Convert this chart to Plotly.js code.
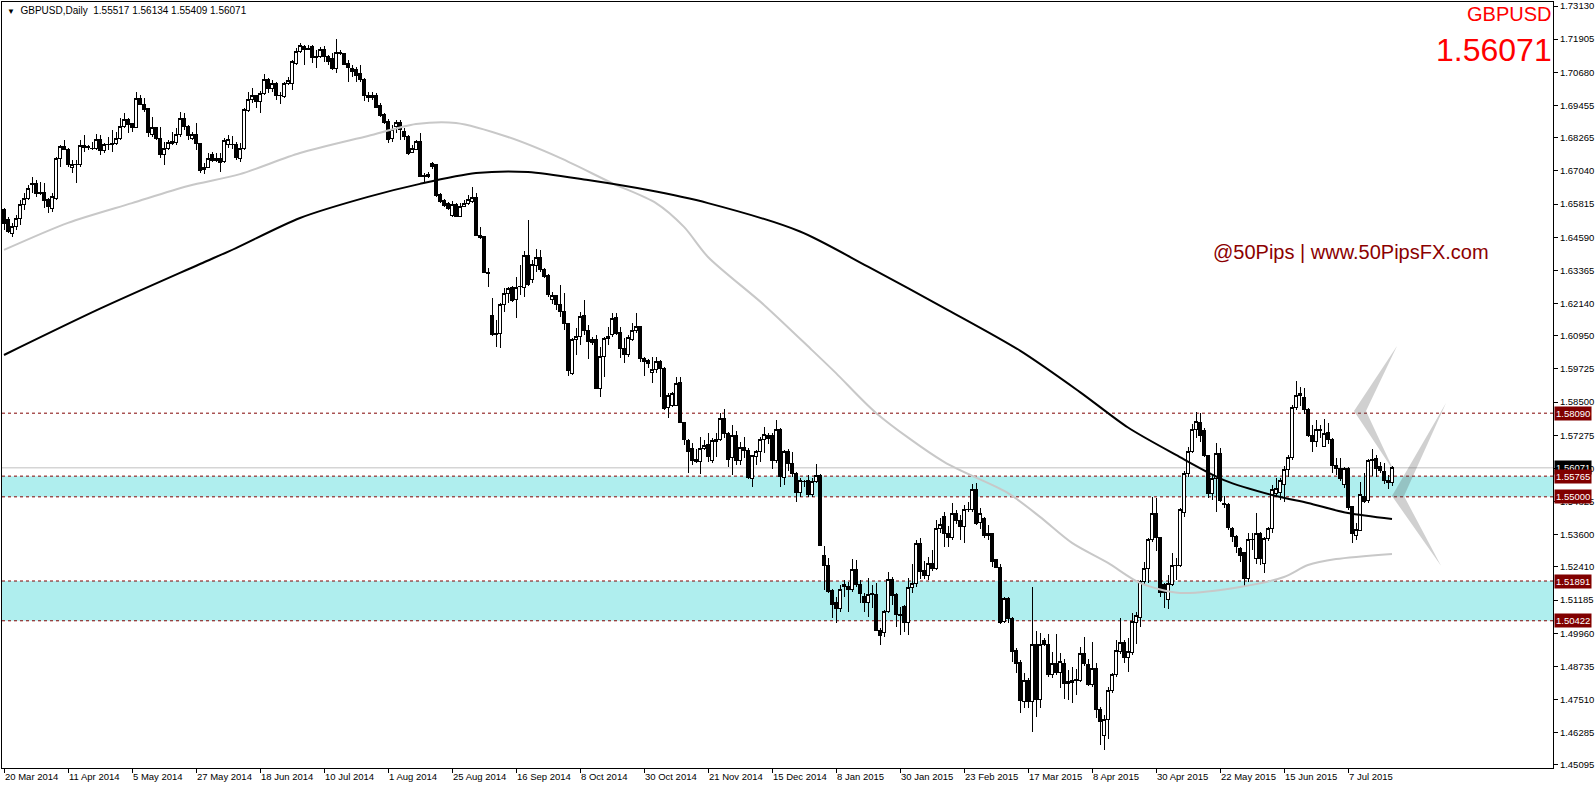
<!DOCTYPE html>
<html>
<head>
<meta charset="utf-8">
<script src="https://cdn.plot.ly/plotly-3.0.1.min.js"></script>
<style>
html,body{margin:0;padding:0;background:#fff;}
#chart{width:1596px;height:786px;}
#chart .boxlayer path{shape-rendering:crispEdges;}
</style>
</head>
<body>
<div id="chart"></div>
<script>
// ---------------- DATA ----------------
const symbol = "GBPUSD";
const timeframe = "Daily";

const opens = [
1.6560,1.6523,1.6473,1.6498,1.6529,1.6578,1.6603,1.6658,1.6658,1.6625,1.6625,1.6597,1.6566,1.6603,1.6748,1.6793,1.6784,1.6716,1.6728,1.6726,
1.6796,1.6793,1.6787,1.6787,1.6821,1.6781,1.6800,1.6800,1.6806,1.6824,1.6867,1.6892,1.6880,1.6865,1.6972,1.6951,1.6933,1.6839,1.6865,1.6824,
1.6766,1.6787,1.6806,1.6809,1.6837,1.6898,1.6867,1.6824,1.6839,1.6806,1.6710,1.6716,1.6766,1.6748,1.6748,1.6738,1.6803,1.6803,1.6803,1.6750,
1.6785,1.6926,1.6966,1.6981,1.6960,1.6990,1.7040,1.7009,1.7027,1.6984,1.6978,1.7025,1.7025,1.7101,1.7144,1.7165,1.7157,1.7165,1.7128,1.7128,
1.7154,1.7126,1.7120,1.7083,1.7142,1.7136,1.7101,1.7083,1.7077,1.7062,1.7042,1.6984,1.6982,1.6981,1.6944,1.6911,1.6886,1.6824,1.6867,1.6882,
1.6851,1.6830,1.6771,1.6784,1.6812,1.6687,1.6683,1.6732,1.6726,1.6615,1.6594,1.6584,1.6541,1.6578,1.6537,1.6574,1.6584,1.6590,1.6606,1.6467,
1.6461,1.6329,1.6168,1.6104,1.6104,1.6209,1.6252,1.6274,1.6229,1.6276,1.6274,1.6390,1.6303,1.6356,1.6385,1.6338,1.6316,1.6230,1.6242,1.6212,
1.6184,1.6141,1.5956,1.6082,1.6094,1.6168,1.6116,1.6082,1.6082,1.5901,1.6020,1.6086,1.6098,1.6163,1.6107,1.6049,1.6024,1.6082,1.6116,1.6129,
1.6012,1.6002,1.5959,1.5971,1.5999,1.5975,1.5831,1.5839,1.5839,1.5922,1.5774,1.5707,1.5679,1.5639,1.5630,1.5679,1.5692,1.5634,1.5704,1.5712,
1.5790,1.5735,1.5646,1.5728,1.5636,1.5683,1.5673,1.5568,1.5648,1.5667,1.5712,1.5728,1.5725,1.5634,1.5747,1.5572,1.5667,1.5624,1.5587,1.5516,
1.5556,1.5562,1.5510,1.5556,1.5577,1.5285,1.5245,1.5153,1.5109,1.5088,1.5178,1.5170,1.5158,1.5230,1.5178,1.5131,1.5109,1.5141,1.5141,1.5008,
1.4998,1.5076,1.5195,1.5141,1.5067,1.5094,1.5035,1.5166,1.5180,1.5326,1.5227,1.5211,1.5254,1.5236,1.5384,1.5429,1.5363,1.5350,1.5437,1.5414,
1.5392,1.5454,1.5454,1.5528,1.5405,1.5421,1.5363,1.5363,1.5267,1.5240,1.5039,1.5125,1.5051,1.4932,1.4887,1.4743,1.4823,1.4743,1.4956,1.4752,
1.4971,1.4956,1.4842,1.4885,1.4851,1.4885,1.4817,1.4814,1.4823,1.4823,1.4920,1.4879,1.4805,1.4867,1.4715,1.4617,1.4676,1.4784,1.4842,1.4928,
1.4961,1.4907,1.4924,1.5035,1.5055,1.5187,1.5236,1.5341,1.5437,1.5350,1.5178,1.5119,1.5178,1.5245,1.5245,1.5442,1.5587,1.5667,1.5747,1.5774,
1.5744,1.5652,1.5513,1.5568,1.5661,1.5476,1.5470,1.5384,1.5353,1.5310,1.5294,1.5199,1.5341,1.5273,1.5365,1.5255,1.5347,1.5384,1.5513,1.5515,
1.5544,1.5602,1.5646,1.5831,1.5875,1.5868,1.5823,1.5728,1.5704,1.5745,1.5685,1.5737,1.5712,1.5614,1.5605,1.5547,1.5605,1.5464,1.5359,1.5376,
1.5501,1.5488,1.5634,1.5642,1.5611,1.5593,1.5560,1.55517];

const highs = [
1.6566,1.6535,1.6510,1.6541,1.6597,1.6621,1.6652,1.6683,1.6670,1.6664,1.6658,1.6603,1.6621,1.6756,1.6800,1.6818,1.6787,1.6744,1.6744,1.6818,
1.6837,1.6800,1.6812,1.6839,1.6837,1.6806,1.6830,1.6855,1.6849,1.6898,1.6917,1.6898,1.6882,1.6995,1.6984,1.6972,1.6935,1.6902,1.6867,1.6867,
1.6812,1.6818,1.6849,1.6861,1.6923,1.6917,1.6873,1.6849,1.6880,1.6808,1.6732,1.6769,1.6775,1.6769,1.6769,1.6824,1.6837,1.6833,1.6812,1.6806,
1.6935,1.6997,1.7009,1.6984,1.6999,1.7061,1.7046,1.7040,1.7034,1.6997,1.7034,1.7050,1.7114,1.7157,1.7175,1.7169,1.7169,1.7169,1.7151,1.7163,
1.7165,1.7132,1.7138,1.7190,1.7151,1.7141,1.7114,1.7095,1.7089,1.7095,1.7046,1.6997,1.6997,1.6990,1.6954,1.6919,1.6894,1.6874,1.6892,1.6892,
1.6861,1.6837,1.6800,1.6818,1.6843,1.6695,1.6701,1.6738,1.6729,1.6621,1.6599,1.6590,1.6594,1.6584,1.6584,1.6597,1.6615,1.6646,1.6621,1.6498,
1.6463,1.6344,1.6233,1.6153,1.6215,1.6270,1.6276,1.6279,1.6313,1.6356,1.6408,1.6523,1.6375,1.6414,1.6412,1.6344,1.6323,1.6258,1.6246,1.6283,
1.6252,1.6143,1.6086,1.6123,1.6184,1.6227,1.6135,1.6092,1.6098,1.6055,1.6092,1.6129,1.6178,1.6180,1.6129,1.6086,1.6098,1.6143,1.6180,1.6131,
1.6018,1.6008,1.6018,1.6018,1.6005,1.5981,1.5883,1.5889,1.5944,1.5941,1.5778,1.5712,1.5700,1.5676,1.5720,1.5710,1.5735,1.5716,1.5735,1.5809,
1.5823,1.5741,1.5765,1.5744,1.5704,1.5722,1.5679,1.5655,1.5673,1.5720,1.5757,1.5737,1.5737,1.5784,1.5753,1.5673,1.5675,1.5667,1.5593,1.5568,
1.5562,1.5581,1.5568,1.5621,1.5584,1.5318,1.5273,1.5158,1.5131,1.5174,1.5193,1.5187,1.5269,1.5267,1.5193,1.5144,1.5199,1.5174,1.5181,1.5014,
1.5082,1.5224,1.5205,1.5146,1.5094,1.5101,1.5199,1.5251,1.5341,1.5347,1.5264,1.5276,1.5304,1.5415,1.5421,1.5445,1.5392,1.5478,1.5451,1.5433,
1.5470,1.5482,1.5547,1.5550,1.5457,1.5427,1.5396,1.5365,1.5269,1.5252,1.5131,1.5131,1.5057,1.4940,1.4897,1.4848,1.4830,1.5168,1.5006,1.4996,
1.4977,1.4993,1.4928,1.4993,1.4924,1.4900,1.4860,1.4870,1.4863,1.4947,1.4981,1.4900,1.4965,1.4888,1.4725,1.4694,1.4799,1.4848,1.4971,1.5051,
1.4971,1.4977,1.5072,1.5076,1.5193,1.5260,1.5347,1.5498,1.5494,1.5353,1.5183,1.5211,1.5291,1.5273,1.5458,1.5595,1.5685,1.5769,1.5815,1.5809,
1.5753,1.5655,1.5581,1.5698,1.5679,1.5503,1.5476,1.5390,1.5359,1.5316,1.5298,1.5368,1.5365,1.5439,1.5371,1.5353,1.5390,1.5544,1.5568,1.5568,
1.5614,1.5655,1.5839,1.5929,1.5905,1.5901,1.5827,1.5765,1.5782,1.5765,1.5786,1.5772,1.5716,1.5642,1.5642,1.5611,1.5609,1.5466,1.5402,1.5553,
1.5587,1.5638,1.5675,1.5655,1.5630,1.5624,1.5581,1.56134];

const lows = [
1.6486,1.6473,1.6461,1.6486,1.6504,1.6560,1.6597,1.6621,1.6609,1.6615,1.6566,1.6550,1.6553,1.6597,1.6720,1.6781,1.6720,1.6695,1.6658,1.6720,
1.6775,1.6781,1.6781,1.6781,1.6763,1.6769,1.6781,1.6775,1.6800,1.6818,1.6861,1.6843,1.6849,1.6861,1.6947,1.6923,1.6830,1.6830,1.6818,1.6750,
1.6726,1.6781,1.6800,1.6800,1.6830,1.6855,1.6818,1.6818,1.6781,1.6695,1.6693,1.6713,1.6738,1.6738,1.6701,1.6732,1.6787,1.6784,1.6744,1.6738,
1.6781,1.6923,1.6953,1.6935,1.6917,1.6984,1.6990,1.6997,1.6966,1.6951,1.6972,1.7021,1.7003,1.7095,1.7138,1.7095,1.7150,1.7101,1.7083,1.7120,
1.7107,1.7095,1.7077,1.7064,1.7132,1.7095,1.7034,1.7052,1.7034,1.7034,1.6963,1.6960,1.6966,1.6935,1.6902,1.6877,1.6808,1.6812,1.6843,1.6818,
1.6818,1.6763,1.6769,1.6781,1.6683,1.6660,1.6677,1.6710,1.6609,1.6584,1.6569,1.6560,1.6535,1.6532,1.6532,1.6572,1.6578,1.6584,1.6464,1.6451,
1.6326,1.6276,1.6094,1.6055,1.6049,1.6184,1.6215,1.6221,1.6159,1.6246,1.6239,1.6279,1.6289,1.6332,1.6332,1.6307,1.6240,1.6212,1.6190,1.6166,
1.6116,1.5947,1.5950,1.6024,1.6061,1.6098,1.6008,1.6061,1.5897,1.5870,1.5941,1.6061,1.6092,1.6098,1.6012,1.5993,1.6018,1.6077,1.6104,1.5999,
1.5947,1.5975,1.5922,1.5956,1.5870,1.5821,1.5790,1.5833,1.5836,1.5772,1.5691,1.5589,1.5618,1.5626,1.5584,1.5673,1.5630,1.5626,1.5646,1.5708,
1.5716,1.5612,1.5581,1.5618,1.5618,1.5642,1.5565,1.5538,1.5618,1.5630,1.5661,1.5695,1.5602,1.5624,1.5538,1.5544,1.5597,1.5575,1.5482,1.5501,
1.5538,1.5501,1.5498,1.5550,1.5318,1.5156,1.5144,1.5051,1.5033,1.5076,1.5131,1.5076,1.5150,1.5166,1.5107,1.5076,1.5057,1.5088,1.5006,1.4953,
1.4984,1.5070,1.5101,1.5018,1.4990,1.5002,1.4990,1.5144,1.5166,1.5195,1.5195,1.5193,1.5227,1.5230,1.5365,1.5313,1.5313,1.5341,1.5400,1.5341,
1.5331,1.5445,1.5445,1.5396,1.5380,1.5347,1.5341,1.5242,1.5236,1.5030,1.5033,1.5033,1.4891,1.4848,1.4700,1.4719,1.4719,1.4633,1.4686,1.4719,
1.4949,1.4836,1.4830,1.4842,1.4793,1.4752,1.4750,1.4737,1.4768,1.4817,1.4875,1.4801,1.4799,1.4682,1.4583,1.4565,1.4604,1.4777,1.4833,1.4919,
1.4888,1.4854,1.4916,1.4956,1.5020,1.5174,1.5183,1.5334,1.5301,1.5129,1.5088,1.5085,1.5171,1.5193,1.5242,1.5427,1.5575,1.5661,1.5716,1.5704,
1.5648,1.5495,1.5489,1.5445,1.5482,1.5458,1.5378,1.5335,1.5294,1.5261,1.5171,1.5187,1.5304,1.5252,1.5248,1.5218,1.5338,1.5368,1.5501,1.5488,
1.5482,1.5572,1.5636,1.5821,1.5836,1.5806,1.5720,1.5667,1.5683,1.5716,1.5683,1.5695,1.5587,1.5581,1.5560,1.5531,1.5451,1.5328,1.5341,1.5372,
1.5478,1.5478,1.5577,1.5574,1.5587,1.5547,1.5528,1.55409];

const closes = [
1.6510,1.6480,1.6498,1.6529,1.6578,1.6603,1.6640,1.6652,1.6621,1.6619,1.6594,1.6572,1.6609,1.6750,1.6793,1.6783,1.6726,1.6728,1.6726,1.6796,
1.6791,1.6792,1.6786,1.6821,1.6779,1.6800,1.6801,1.6806,1.6824,1.6867,1.6892,1.6877,1.6865,1.6972,1.6951,1.6929,1.6846,1.6865,1.6822,1.6766,
1.6787,1.6808,1.6812,1.6837,1.6898,1.6867,1.6834,1.6839,1.6806,1.6707,1.6717,1.6750,1.6744,1.6744,1.6735,1.6818,1.6821,1.6800,1.6754,1.6785,
1.6929,1.6966,1.6981,1.6960,1.6990,1.7040,1.7009,1.7027,1.6984,1.6981,1.7025,1.7037,1.7107,1.7144,1.7166,1.7154,1.7153,1.7123,1.7123,1.7153,
1.7126,1.7107,1.7083,1.7142,1.7136,1.7098,1.7087,1.7071,1.7058,1.7042,1.6982,1.6976,1.6976,1.6939,1.6907,1.6882,1.6821,1.6857,1.6882,1.6857,
1.6830,1.6769,1.6787,1.6812,1.6685,1.6684,1.6692,1.6722,1.6612,1.6590,1.6576,1.6566,1.6578,1.6537,1.6574,1.6584,1.6597,1.6606,1.6465,1.6458,
1.6328,1.6325,1.6098,1.6100,1.6209,1.6252,1.6270,1.6227,1.6274,1.6277,1.6390,1.6283,1.6360,1.6385,1.6338,1.6313,1.6246,1.6242,1.6212,1.6184,
1.6141,1.5966,1.6082,1.6094,1.6166,1.6116,1.6073,1.6070,1.5901,1.6020,1.6086,1.6094,1.6160,1.6104,1.6049,1.6024,1.6089,1.6116,1.6129,1.6012,
1.5999,1.5993,1.5971,1.5999,1.5975,1.5827,1.5873,1.5882,1.5917,1.5774,1.5710,1.5667,1.5636,1.5630,1.5679,1.5691,1.5648,1.5708,1.5710,1.5790,
1.5735,1.5639,1.5728,1.5634,1.5683,1.5671,1.5572,1.5651,1.5667,1.5712,1.5732,1.5716,1.5634,1.5747,1.5575,1.5667,1.5624,1.5587,1.5516,1.5560,
1.5557,1.5510,1.5556,1.5577,1.5322,1.5245,1.5150,1.5104,1.5088,1.5158,1.5168,1.5158,1.5230,1.5178,1.5144,1.5109,1.5141,1.5144,1.5008,1.4987,
1.5076,1.5195,1.5134,1.5064,1.5060,1.5035,1.5166,1.5180,1.5326,1.5224,1.5211,1.5254,1.5236,1.5384,1.5396,1.5363,1.5350,1.5437,1.5412,1.5392,
1.5454,1.5455,1.5528,1.5402,1.5437,1.5359,1.5359,1.5261,1.5240,1.5035,1.5125,1.5051,1.4928,1.4885,1.4747,1.4823,1.4743,1.4956,1.4752,1.4953,
1.4955,1.4842,1.4885,1.4851,1.4891,1.4809,1.4811,1.4823,1.4827,1.4920,1.4883,1.4805,1.4867,1.4713,1.4670,1.4676,1.4784,1.4842,1.4932,1.4961,
1.4907,1.4928,1.5039,1.5060,1.5187,1.5236,1.5341,1.5437,1.5350,1.5146,1.5146,1.5181,1.5248,1.5246,1.5454,1.5587,1.5667,1.5747,1.5778,1.5725,
1.5651,1.5513,1.5568,1.5661,1.5488,1.5470,1.5387,1.5353,1.5316,1.5285,1.5199,1.5343,1.5343,1.5365,1.5273,1.5347,1.5384,1.5528,1.5531,1.5562,
1.5602,1.5646,1.5831,1.5876,1.5882,1.5823,1.5725,1.5704,1.5747,1.5747,1.5734,1.5712,1.5614,1.5605,1.5568,1.5605,1.5461,1.5363,1.5378,1.5507,
1.5482,1.5636,1.5638,1.5605,1.5599,1.5560,1.5552,1.56071];

// Moving averages (read at sample bars)
const blackMaBars = [0,24,49,58,74,91,104,118,131,146,161,176,199,216,236,254,269,281,293,305,318,326,336,347];
const blackMaVals = [1.6024,1.6195,1.6360,1.6419,1.6530,1.6608,1.6656,1.6696,1.6700,1.6670,1.6633,1.6585,1.6480,1.6350,1.6190,1.6040,1.5887,1.5756,1.5655,1.5562,1.5503,1.5477,1.5440,1.5418];
const grayMaBars = [0,16,32,46,59,74,91,103,113,126,139,152,163,170,176,190,202,208,218,235,251,259,267,276,284,294,309,320,326,333,347];
const grayMaVals = [1.6412,1.6512,1.6585,1.6648,1.6692,1.6770,1.6833,1.6877,1.6881,1.6829,1.6752,1.6659,1.6585,1.6497,1.6386,1.6209,1.6042,1.5957,1.5810,1.5629,1.5514,1.5426,1.5330,1.5256,1.5182,1.5145,1.5167,1.5204,1.5248,1.5270,1.5289];

// Axis labels
const dateLabels = ["20 Mar 2014","11 Apr 2014","5 May 2014","27 May 2014","18 Jun 2014","10 Jul 2014","1 Aug 2014","25 Aug 2014","16 Sep 2014","8 Oct 2014","30 Oct 2014","21 Nov 2014","15 Dec 2014","8 Jan 2015","30 Jan 2015","23 Feb 2015","17 Mar 2015","8 Apr 2015","30 Apr 2015","22 May 2015","15 Jun 2015","7 Jul 2015"];
const barsPerLabel = 16;
const priceTicks = [1.73130,1.71905,1.70680,1.69455,1.68265,1.67040,1.65815,1.64590,1.63365,1.62140,1.60950,1.59725,1.58500,1.57275,1.56050,1.54825,1.53600,1.52410,1.51185,1.49960,1.48735,1.47510,1.46285,1.45095];

// Horizontal levels and zones
const levels = [1.58090,1.55765,1.55000,1.51891,1.50422];
const zones = [[1.55000,1.55765],[1.50422,1.51891]];

// Drawn chevrons: [bar, price] anchor points
const chevrons = [
  {top:[348.25,1.6057], apex:[337.5,1.5817], bottom:[347.75,1.5588]},
  {top:[360.5,1.5847], apex:[347,1.5503], bottom:[359.25,1.5245]}
];

const watermark = "@50Pips | www.50PipsFX.com";

// ---------------- BUILD ----------------
const n = closes.length;
const idx = closes.map((_, i) => i);
const last = n - 1;
const lastPrice = closes[last];
const fmt = v => v.toFixed(5);

const FONT = "Liberation Sans, Arial, sans-serif";

const traces = [
  {type:'scatter', mode:'lines', x: grayMaBars, y: grayMaVals,
   line:{color:'#C8C8C8', width:2, shape:'spline', smoothing:0.8}, hoverinfo:'skip', showlegend:false},
  {type:'scatter', mode:'lines', x: blackMaBars, y: blackMaVals,
   line:{color:'#000000', width:2, shape:'spline', smoothing:0.8}, hoverinfo:'skip', showlegend:false},
  {type:'candlestick', x: idx, open: opens, high: highs, low: lows, close: closes,
   increasing:{line:{color:'#000000', width:1}, fillcolor:'#FFFFFF'},
   decreasing:{line:{color:'#000000', width:1}, fillcolor:'#000000'},
   whiskerwidth:0, hoverinfo:'skip', showlegend:false}
];

const shapes = [];
zones.forEach(z => shapes.push({type:'rect', xref:'paper', x0:0, x1:1, yref:'y', y0:z[0], y1:z[1],
  fillcolor:'#AFEEEE', line:{width:0}, layer:'below'}));
chevrons.forEach(c => {
  const w = 3;
  const p = `M ${c.top[0]} ${c.top[1]} L ${c.apex[0]} ${c.apex[1]} L ${c.bottom[0]} ${c.bottom[1]} L ${c.apex[0]+w} ${c.apex[1]} Z`;
  shapes.push({type:'path', xref:'x', yref:'y', path:p, fillcolor:'rgba(80,80,80,0.27)', line:{width:0}, layer:'below'});
});
shapes.push({type:'line', xref:'paper', x0:0, x1:1, yref:'y', y0:lastPrice, y1:lastPrice,
  line:{color:'#C0C0C0', width:1}, layer:'below'});
levels.forEach(l => shapes.push({type:'line', xref:'paper', x0:0, x1:1, yref:'y', y0:l, y1:l,
  line:{color:'#800000', width:1, dash:'3px,3px'}, layer:'below'}));

const annotations = [];
annotations.push({xref:'paper', yref:'paper', x:0, y:1, xanchor:'left', yanchor:'top', xshift:3, yshift:-1,
  showarrow:false, align:'left',
  text:'<span style="font-size:8px">▼</span>&nbsp;&nbsp;' + symbol + ',' + timeframe + '&nbsp;&nbsp;' +
       [opens[last], highs[last], lows[last], closes[last]].map(fmt).join(' '),
  font:{family:FONT, size:10, color:'#000000'}});
annotations.push({xref:'paper', yref:'paper', x:1, y:1, xanchor:'right', yanchor:'top', xshift:0, yshift:1,
  showarrow:false, text:symbol, font:{family:FONT, size:20, color:'#FF0000'}});
annotations.push({xref:'paper', yref:'paper', x:1, y:1, xanchor:'right', yanchor:'top', xshift:1, yshift:-28,
  showarrow:false, text:fmt(lastPrice), font:{family:FONT, size:32, color:'#FF0000'}});
annotations.push({xref:'paper', yref:'paper', x:(1351-2)/1551, y:(768-252)/766, xanchor:'center', yanchor:'middle',
  showarrow:false, text:watermark, font:{family:FONT, size:20, color:'#8B0000'}});
// price label
annotations.push({xref:'paper', yref:'y', x:1, y:lastPrice, xanchor:'left', yanchor:'middle', xshift:1,
  showarrow:false, text:fmt(lastPrice), bgcolor:'#000000', borderpad:1,
  font:{family:FONT, size:9.5, color:'#FFFFFF'}});
levels.forEach(l => annotations.push({xref:'paper', yref:'y', x:1, y:l, xanchor:'left', yanchor:'middle', xshift:1,
  showarrow:false, text:fmt(l), bgcolor:'#800000', borderpad:1,
  font:{family:FONT, size:9.5, color:'#FFFFFF'}}));

const layout = {
  width:1596, height:786,
  margin:{l:2, r:43, t:2, b:18, pad:0},
  paper_bgcolor:'#FFFFFF', plot_bgcolor:'#FFFFFF',
  font:{family:FONT, size:9.5, color:'#000000'},
  showlegend:false,
  boxgap:0.375, boxgroupgap:0,
  xaxis:{
    range:[-0.5, 387.25], fixedrange:true, autorange:false,
    tickvals: dateLabels.map((_, k) => k * barsPerLabel),
    ticktext: dateLabels,
    ticks:'outside', ticklen:4, tickcolor:'#000000', tickwidth:1,
    ticklabelposition:'outside right',
    showline:true, linecolor:'#000000', linewidth:1, mirror:true,
    showgrid:false, zeroline:false, automargin:false,
    rangeslider:{visible:false},
    tickfont:{family:FONT, size:9.5, color:'#000000'}
  },
  yaxis:{
    side:'right', range:[1.44984, 1.73278], fixedrange:true, autorange:false,
    tickvals: priceTicks, ticktext: priceTicks.map(fmt),
    ticks:'outside', ticklen:4, tickcolor:'#000000', tickwidth:1,
    showline:true, linecolor:'#000000', linewidth:1, mirror:true,
    showgrid:false, zeroline:false, automargin:false,
    tickfont:{family:FONT, size:9.5, color:'#000000'}
  },
  shapes: shapes,
  annotations: annotations
};

Plotly.newPlot('chart', traces, layout, {staticPlot:true, displayModeBar:false});
</script>
</body>
</html>
